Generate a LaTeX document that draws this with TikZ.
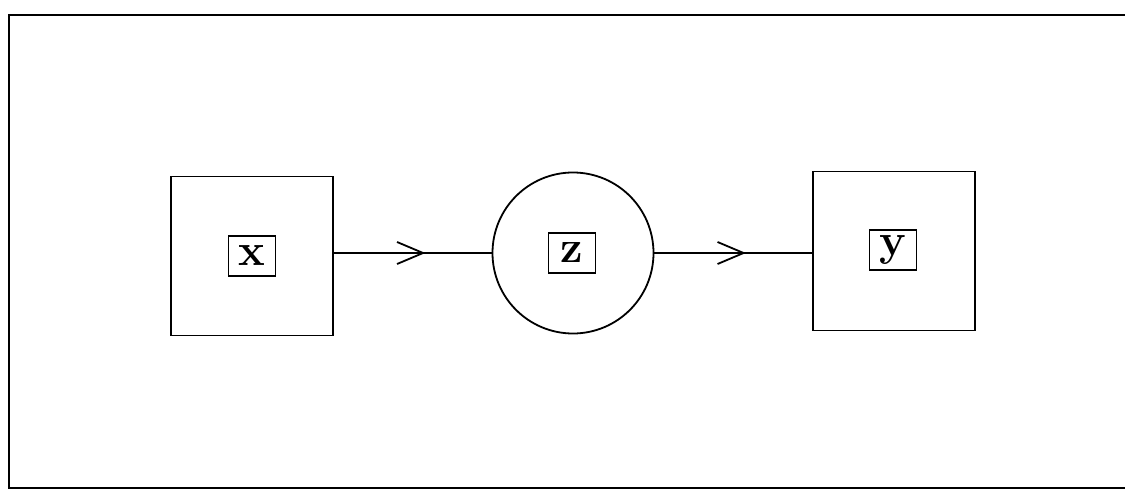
\documentclass[tikz,border=0pt]{standalone}
\usetikzlibrary{arrows.meta,decorations.markings}
\tikzset{
  block/.style={draw, line width=1.8pt, minimum width=162pt, minimum height=159pt, inner sep=0pt},
  unit/.style={draw, circle, line width=1.8pt, minimum size=161pt, inner sep=0pt},
  tag/.style={draw, line width=1.5pt, minimum width=47pt, minimum height=40pt, inner sep=0pt,
              font=\fontsize{45}{48}\selectfont\bfseries},
  flow/.style={line width=1.8pt,
    postaction={decorate, decoration={markings,
      mark=at position 0.58 with {\arrow{Straight Barb[length=26pt, width=22pt, line width=1.8pt]}}}}},
}
\begin{document}
\begin{tikzpicture}[x=1pt, y=-1pt]
  \useasboundingbox (0,0) rectangle (1125,492);
  % frame (its right side lies past the page edge)
  \draw[line width=2.2pt] (1140,15) -- (9,15) -- (9,488) -- (1140,488);
  % blocks
  \node[block] (X) at (252,256) {};
  \node[tag] (x) at (252,256) {x};
  \node[unit] (Z) at (573,253) {};
  \node[tag] (z) at (572,253) {z};
  \node[block] (Y) at (894,251) {};
  \node[tag] (y) at (893,250) {y};
  % connectors
  \draw[flow] (X.east |- Z.west) -- (Z.west);
  \draw[flow] (Z.east) -- (Y.west |- Z.east);
\end{tikzpicture}
\end{document}
